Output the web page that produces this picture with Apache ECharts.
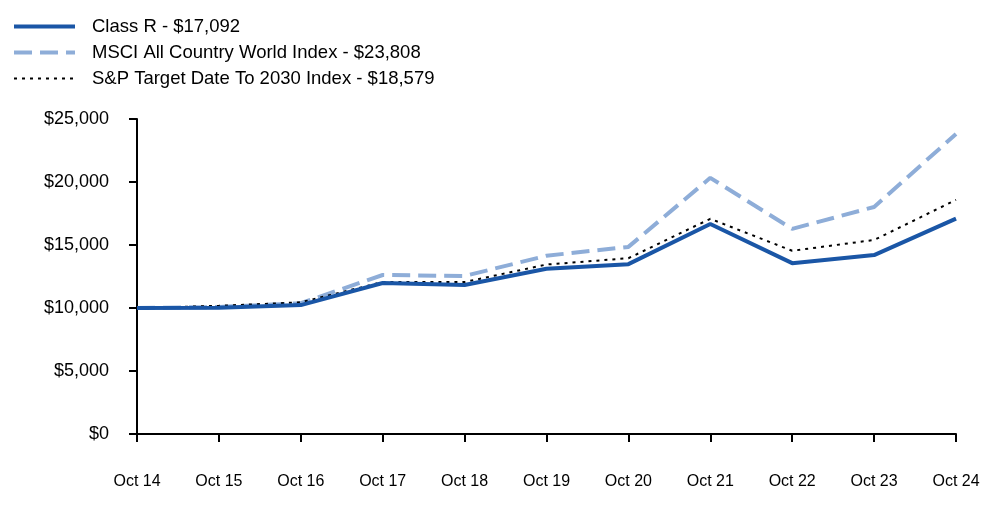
<!DOCTYPE html>
<html>
<head>
<meta charset="utf-8">
<script src="https://cdn.jsdelivr.net/npm/echarts@6/dist/echarts.min.js"></script>
<style>
html,body{margin:0;padding:0;background:#fff;}
#chart{width:1000px;height:523px;}
</style>
</head>
<body>
<div id="chart"></div>
<script>
const categories = ['Oct 14','Oct 15','Oct 16','Oct 17','Oct 18','Oct 19','Oct 20','Oct 21','Oct 22','Oct 23','Oct 24'];
const classR = [10000, 10020, 10230, 11980, 11830, 13120, 13480, 16670, 13560, 14200, 17092];
const msci = [10000, 10080, 10380, 12620, 12540, 14150, 14850, 20330, 16280, 18020, 23808];
const sp2030 = [10000, 10170, 10450, 12060, 12060, 13450, 13950, 17080, 14540, 15400, 18579];
const seriesNames = ['Class R - $17,092', 'MSCI All Country World Index - $23,808', 'S&P Target Date To 2030 Index - $18,579'];

const chart = echarts.init(document.getElementById('chart'));
const font = 'Arial, "Liberation Sans", sans-serif';
const styles = {
  classR: { color: '#1a56a6', width: 4, type: 'solid' },
  msci: { color: '#8eadd8', width: 4, type: [18, 8] },
  sp: { color: '#000', width: 2, type: [3, 5] }
};
chart.setOption({
  animation: false,
  legend: {
    orient: 'vertical',
    left: 12,
    top: 17,
    padding: 0,
    itemWidth: 61,
    itemHeight: 18,
    itemGap: 7,
    align: 'left',
    itemStyle: { opacity: 0 },
    textStyle: { fontFamily: font, fontSize: 18.5, color: '#000', padding: [0,0,0,12] },
    data: [
      { name: seriesNames[0], lineStyle: styles.classR },
      { name: seriesNames[1], lineStyle: styles.msci },
      { name: seriesNames[2], lineStyle: styles.sp }
    ]
  },
  grid: { left: 137, right: 44, top: 119, bottom: 89, containLabel: false },
  xAxis: {
    type: 'category',
    data: categories,
    boundaryGap: false,
    axisLine: { lineStyle: { color: '#000', width: 2 } },
    axisTick: { show: true, length: 8, lineStyle: { color: '#000', width: 2 } },
    axisLabel: { fontFamily: font, fontSize: 16, color: '#000', margin: 40 }
  },
  yAxis: {
    type: 'value',
    min: 0,
    max: 25000,
    interval: 5000,
    axisLine: { show: true, lineStyle: { color: '#000', width: 2 } },
    axisTick: { show: true, length: 8, lineStyle: { color: '#000', width: 2 } },
    splitLine: { show: false },
    axisLabel: {
      fontFamily: font, fontSize: 18, color: '#000', margin: 28,
      formatter: v => '$' + v.toLocaleString('en-US')
    }
  },
  series: [
    {
      name: seriesNames[1], type: 'line', data: msci, symbol: 'none', z: 2,
      lineStyle: styles.msci, itemStyle: { color: styles.msci.color }
    },
    {
      name: seriesNames[2], type: 'line', data: sp2030, symbol: 'none', z: 3,
      lineStyle: styles.sp, itemStyle: { color: styles.sp.color }
    },
    {
      name: seriesNames[0], type: 'line', data: classR, symbol: 'none', z: 4,
      lineStyle: styles.classR, itemStyle: { color: styles.classR.color }
    }
  ]
});
</script>
</body>
</html>
